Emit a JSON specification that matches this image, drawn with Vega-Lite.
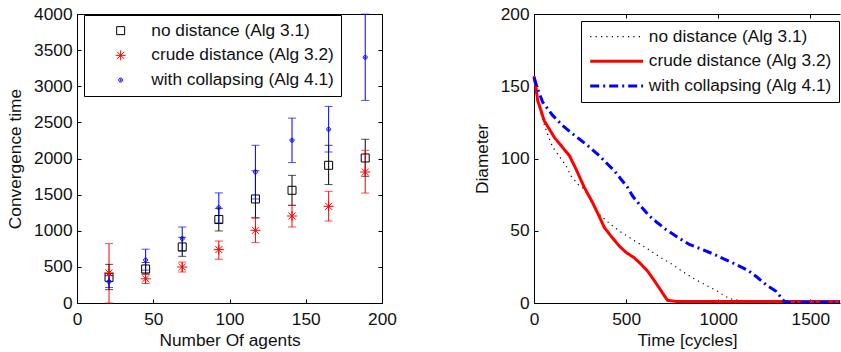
{
  "$schema": "https://vega.github.io/schema/vega-lite/v6.json",
  "background": "white",
  "padding": {"left": 6, "top": 5, "right": 0, "bottom": 0},
  "config": {
    "font": "Liberation Sans",
    "view": {"stroke": null},
    "axis": {
      "labelFontSize": 17.3, "titleFontSize": 17.3, "titleFontWeight": "normal",
      "labelColor": "#111", "titleColor": "#111", "domainColor": "black", "tickColor": "black",
      "tickSize": -4, "grid": false, "labelFlush": false, "labelOverlap": false,
      "domainWidth": 1, "tickWidth": 1, "format": "d"
    },
    "legend": {"labelFontSize": 17.3, "labelColor": "#111", "labelLimit": 400}
  },
  "spacing": 152,
  "bounds": "flush",
  "resolve": {
    "scale": {"color": "independent", "shape": "independent", "strokeDash": "independent", "strokeWidth": "independent"},
    "legend": {"color": "independent", "shape": "independent", "strokeDash": "independent", "strokeWidth": "independent"}
  },
  "hconcat": [
    {
      "width": 305, "height": 289,
      "data": {"values": [
        {"n": 21, "series": "no distance (Alg 3.1)", "mean": 355, "lo": 185, "hi": 535},
        {"n": 45, "series": "no distance (Alg 3.1)", "mean": 471, "lo": 400, "hi": 560},
        {"n": 69, "series": "no distance (Alg 3.1)", "mean": 776, "lo": 646, "hi": 910},
        {"n": 93, "series": "no distance (Alg 3.1)", "mean": 1155, "lo": 997, "hi": 1310},
        {"n": 117, "series": "no distance (Alg 3.1)", "mean": 1440, "lo": 1180, "hi": 1830},
        {"n": 141, "series": "no distance (Alg 3.1)", "mean": 1560, "lo": 1352, "hi": 1767},
        {"n": 165, "series": "no distance (Alg 3.1)", "mean": 1906, "lo": 1639, "hi": 2183},
        {"n": 189, "series": "no distance (Alg 3.1)", "mean": 2007, "lo": 1754, "hi": 2266},
        {"n": 21, "series": "crude distance (Alg 3.2)", "mean": 415, "lo": 0, "hi": 822},
        {"n": 45, "series": "crude distance (Alg 3.2)", "mean": 335, "lo": 270, "hi": 400},
        {"n": 69, "series": "crude distance (Alg 3.2)", "mean": 498, "lo": 429, "hi": 567},
        {"n": 93, "series": "crude distance (Alg 3.2)", "mean": 739, "lo": 605, "hi": 858},
        {"n": 117, "series": "crude distance (Alg 3.2)", "mean": 1006, "lo": 836, "hi": 1176},
        {"n": 141, "series": "crude distance (Alg 3.2)", "mean": 1204, "lo": 1052, "hi": 1352},
        {"n": 165, "series": "crude distance (Alg 3.2)", "mean": 1338, "lo": 1135, "hi": 1546},
        {"n": 189, "series": "crude distance (Alg 3.2)", "mean": 1813, "lo": 1522, "hi": 2113},
        {"n": 21, "series": "with collapsing (Alg 4.1)", "mean": 295, "lo": 215, "hi": 380},
        {"n": 45, "series": "with collapsing (Alg 4.1)", "mean": 595, "lo": 455, "hi": 745},
        {"n": 69, "series": "with collapsing (Alg 4.1)", "mean": 891, "lo": 720, "hi": 1052},
        {"n": 93, "series": "with collapsing (Alg 4.1)", "mean": 1320, "lo": 1109, "hi": 1524},
        {"n": 117, "series": "with collapsing (Alg 4.1)", "mean": 1813, "lo": 1440, "hi": 2183},
        {"n": 141, "series": "with collapsing (Alg 4.1)", "mean": 2252, "lo": 1943, "hi": 2559},
        {"n": 165, "series": "with collapsing (Alg 4.1)", "mean": 2404, "lo": 2090, "hi": 2721},
        {"n": 189, "series": "with collapsing (Alg 4.1)", "mean": 3400, "lo": 2804, "hi": 3998}
      ]},
      "layer": [
        {
          "mark": {"type": "rule", "strokeWidth": 1},
          "encoding": {
            "x": {"field": "n", "type": "quantitative", "scale": {"domain": [0, 200], "nice": false},
                  "axis": {"orient": "bottom", "values": [0, 50, 100, 150, 200], "title": "Number Of agents", "labelPadding": 11, "titlePadding": 4}},
            "y": {"field": "lo", "type": "quantitative", "scale": {"domain": [0, 4000], "nice": false},
                  "axis": {"orient": "left", "values": [0, 500, 1000, 1500, 2000, 2500, 3000, 3500, 4000], "title": "Convergence time", "labelPadding": 9, "titlePadding": 9}},
            "y2": {"field": "hi"},
            "color": {"field": "series", "type": "nominal",
                      "scale": {"domain": ["no distance (Alg 3.1)", "crude distance (Alg 3.2)", "with collapsing (Alg 4.1)"], "range": ["#000000", "#ff0000", "#0000ff"]},
                      "legend": null}
          }
        },
        {
          "mark": {"type": "tick", "orient": "horizontal", "size": 8, "thickness": 1},
          "encoding": {
            "x": {"field": "n", "type": "quantitative", "axis": null},
            "y": {"field": "lo", "type": "quantitative", "axis": null},
            "color": {"field": "series", "type": "nominal", "legend": null}
          }
        },
        {
          "mark": {"type": "tick", "orient": "horizontal", "size": 8, "thickness": 1},
          "encoding": {
            "x": {"field": "n", "type": "quantitative", "axis": null},
            "y": {"field": "hi", "type": "quantitative", "axis": null},
            "color": {"field": "series", "type": "nominal", "legend": null}
          }
        },
        {
          "mark": {"type": "point", "filled": false, "opacity": 1, "strokeWidth": 1, "size": 100},
          "encoding": {
            "x": {"field": "n", "type": "quantitative",
                  "axis": {"orient": "top", "values": [0, 50, 100, 150, 200], "labels": false, "title": null}},
            "y": {"field": "mean", "type": "quantitative",
                  "axis": {"orient": "right", "values": [0, 500, 1000, 1500, 2000, 2500, 3000, 3500, 4000], "labels": false, "title": null}},
            "color": {"field": "series", "type": "nominal",
                      "legend": {"title": null, "orient": "none", "legendX": 7, "legendY": 1, "strokeColor": "black", "fillColor": "white",
                                 "padding": 7, "rowPadding": 6.7, "symbolOffset": 21, "labelOffset": 22, "symbolStrokeWidth": 1, "symbolSize": 100}},
            "shape": {"field": "series", "type": "nominal",
                      "scale": {"domain": ["no distance (Alg 3.1)", "crude distance (Alg 3.2)", "with collapsing (Alg 4.1)"],
                                "range": ["M-0.8,-0.8L0.8,-0.8L0.8,0.8L-0.8,0.8Z", "M-1,0L1,0M0,-1L0,1M-0.7,-0.7L0.7,0.7M-0.7,0.7L0.7,-0.7", "M-0.4,0A0.4,0.4 0 1,0 0.4,0A0.4,0.4 0 1,0 -0.4,0ZM-0.15,0A0.15,0.15 0 1,0 0.15,0A0.15,0.15 0 1,0 -0.15,0Z"]},
                      "legend": {"title": null, "orient": "none", "legendX": 7, "legendY": 1, "strokeColor": "black", "fillColor": "white",
                                 "padding": 7, "rowPadding": 6.7, "symbolOffset": 21, "labelOffset": 22, "symbolStrokeWidth": 1, "symbolSize": 100}}
          }
        }
      ],
      "resolve": {"axis": {"x": "independent", "y": "independent"}, "legend": {"color": "independent", "shape": "independent"}}
    },
    {
      "width": 306, "height": 289,
      "data": {"values": [
        {"s": "no distance (Alg 3.1)", "t": 0, "d": 157},
        {"s": "no distance (Alg 3.1)", "t": 15, "d": 143},
        {"s": "no distance (Alg 3.1)", "t": 40, "d": 130},
        {"s": "no distance (Alg 3.1)", "t": 70, "d": 118},
        {"s": "no distance (Alg 3.1)", "t": 101, "d": 108},
        {"s": "no distance (Alg 3.1)", "t": 140, "d": 101},
        {"s": "no distance (Alg 3.1)", "t": 174, "d": 95},
        {"s": "no distance (Alg 3.1)", "t": 200, "d": 88},
        {"s": "no distance (Alg 3.1)", "t": 240, "d": 82},
        {"s": "no distance (Alg 3.1)", "t": 273, "d": 78.8},
        {"s": "no distance (Alg 3.1)", "t": 320, "d": 68},
        {"s": "no distance (Alg 3.1)", "t": 354, "d": 61.4},
        {"s": "no distance (Alg 3.1)", "t": 410, "d": 55},
        {"s": "no distance (Alg 3.1)", "t": 463, "d": 49.8},
        {"s": "no distance (Alg 3.1)", "t": 540, "d": 43.5},
        {"s": "no distance (Alg 3.1)", "t": 608, "d": 38.2},
        {"s": "no distance (Alg 3.1)", "t": 680, "d": 32},
        {"s": "no distance (Alg 3.1)", "t": 752, "d": 26.6},
        {"s": "no distance (Alg 3.1)", "t": 810, "d": 21.5},
        {"s": "no distance (Alg 3.1)", "t": 861, "d": 17.4},
        {"s": "no distance (Alg 3.1)", "t": 930, "d": 12.5},
        {"s": "no distance (Alg 3.1)", "t": 997, "d": 8.1},
        {"s": "no distance (Alg 3.1)", "t": 1040, "d": 4.5},
        {"s": "no distance (Alg 3.1)", "t": 1069, "d": 2.8},
        {"s": "no distance (Alg 3.1)", "t": 1114, "d": 1.8},
        {"s": "no distance (Alg 3.1)", "t": 1200, "d": 1.5},
        {"s": "no distance (Alg 3.1)", "t": 1661, "d": 1.5},
        {"s": "crude distance (Alg 3.2)", "t": 0, "d": 157},
        {"s": "crude distance (Alg 3.2)", "t": 10, "d": 150},
        {"s": "crude distance (Alg 3.2)", "t": 20, "d": 140},
        {"s": "crude distance (Alg 3.2)", "t": 29, "d": 136.7},
        {"s": "crude distance (Alg 3.2)", "t": 56, "d": 126},
        {"s": "crude distance (Alg 3.2)", "t": 80, "d": 121},
        {"s": "crude distance (Alg 3.2)", "t": 110, "d": 114.7},
        {"s": "crude distance (Alg 3.2)", "t": 150, "d": 108.5},
        {"s": "crude distance (Alg 3.2)", "t": 192, "d": 102},
        {"s": "crude distance (Alg 3.2)", "t": 228, "d": 92.7},
        {"s": "crude distance (Alg 3.2)", "t": 273, "d": 80},
        {"s": "crude distance (Alg 3.2)", "t": 318, "d": 69.5},
        {"s": "crude distance (Alg 3.2)", "t": 350, "d": 61},
        {"s": "crude distance (Alg 3.2)", "t": 382, "d": 52.2},
        {"s": "crude distance (Alg 3.2)", "t": 420, "d": 46},
        {"s": "crude distance (Alg 3.2)", "t": 463, "d": 39.4},
        {"s": "crude distance (Alg 3.2)", "t": 500, "d": 35},
        {"s": "crude distance (Alg 3.2)", "t": 544, "d": 31.3},
        {"s": "crude distance (Alg 3.2)", "t": 580, "d": 27},
        {"s": "crude distance (Alg 3.2)", "t": 617, "d": 22},
        {"s": "crude distance (Alg 3.2)", "t": 650, "d": 16},
        {"s": "crude distance (Alg 3.2)", "t": 680, "d": 10.4},
        {"s": "crude distance (Alg 3.2)", "t": 705, "d": 5.5},
        {"s": "crude distance (Alg 3.2)", "t": 725, "d": 1.8},
        {"s": "crude distance (Alg 3.2)", "t": 771, "d": 1.1},
        {"s": "crude distance (Alg 3.2)", "t": 1661, "d": 1.1},
        {"s": "with collapsing (Alg 4.1)", "t": 0, "d": 156},
        {"s": "with collapsing (Alg 4.1)", "t": 20, "d": 148},
        {"s": "with collapsing (Alg 4.1)", "t": 47, "d": 139},
        {"s": "with collapsing (Alg 4.1)", "t": 100, "d": 130},
        {"s": "with collapsing (Alg 4.1)", "t": 155, "d": 122.8},
        {"s": "with collapsing (Alg 4.1)", "t": 200, "d": 118},
        {"s": "with collapsing (Alg 4.1)", "t": 246, "d": 113.5},
        {"s": "with collapsing (Alg 4.1)", "t": 300, "d": 108},
        {"s": "with collapsing (Alg 4.1)", "t": 354, "d": 102},
        {"s": "with collapsing (Alg 4.1)", "t": 400, "d": 96},
        {"s": "with collapsing (Alg 4.1)", "t": 436, "d": 91.5},
        {"s": "with collapsing (Alg 4.1)", "t": 470, "d": 86},
        {"s": "with collapsing (Alg 4.1)", "t": 508, "d": 80},
        {"s": "with collapsing (Alg 4.1)", "t": 535, "d": 74},
        {"s": "with collapsing (Alg 4.1)", "t": 580, "d": 67},
        {"s": "with collapsing (Alg 4.1)", "t": 626, "d": 60.2},
        {"s": "with collapsing (Alg 4.1)", "t": 670, "d": 55.5},
        {"s": "with collapsing (Alg 4.1)", "t": 716, "d": 50.9},
        {"s": "with collapsing (Alg 4.1)", "t": 780, "d": 45.5},
        {"s": "with collapsing (Alg 4.1)", "t": 843, "d": 40.5},
        {"s": "with collapsing (Alg 4.1)", "t": 915, "d": 37},
        {"s": "with collapsing (Alg 4.1)", "t": 979, "d": 33.6},
        {"s": "with collapsing (Alg 4.1)", "t": 1030, "d": 30.5},
        {"s": "with collapsing (Alg 4.1)", "t": 1087, "d": 27.3},
        {"s": "with collapsing (Alg 4.1)", "t": 1160, "d": 22.7},
        {"s": "with collapsing (Alg 4.1)", "t": 1210, "d": 18},
        {"s": "with collapsing (Alg 4.1)", "t": 1259, "d": 12.7},
        {"s": "with collapsing (Alg 4.1)", "t": 1314, "d": 8.1},
        {"s": "with collapsing (Alg 4.1)", "t": 1340, "d": 4},
        {"s": "with collapsing (Alg 4.1)", "t": 1359, "d": 1.1},
        {"s": "with collapsing (Alg 4.1)", "t": 1380, "d": 0.5},
        {"s": "with collapsing (Alg 4.1)", "t": 1661, "d": 0.5}
      ]},
      "layer": [
        {
          "mark": {"type": "line", "clip": false},
          "encoding": {
            "x": {"field": "t", "type": "quantitative", "scale": {"domain": [0, 1661], "nice": false},
                  "axis": {"orient": "bottom", "values": [0, 500, 1000, 1500], "title": "Time [cycles]", "labelPadding": 11, "titlePadding": 4}},
            "y": {"field": "d", "type": "quantitative", "scale": {"domain": [0, 200], "nice": false},
                  "axis": {"orient": "left", "values": [0, 50, 100, 150, 200], "title": "Diameter", "labelPadding": 9, "titlePadding": 9}},
            "color": {"field": "s", "type": "nominal",
                      "scale": {"domain": ["no distance (Alg 3.1)", "crude distance (Alg 3.2)", "with collapsing (Alg 4.1)"], "range": ["#000000", "#ff0000", "#0000ff"]},
                      "legend": {"title": null, "orient": "none", "legendX": 47, "legendY": 7, "strokeColor": "black", "fillColor": "white",
                                 "padding": 7, "rowPadding": 6.7, "symbolType": "M-5,0L5,0", "symbolSize": 112, "symbolOffset": 20, "labelOffset": 23.5}},
            "strokeDash": {"field": "s", "type": "nominal",
                           "scale": {"domain": ["no distance (Alg 3.1)", "crude distance (Alg 3.2)", "with collapsing (Alg 4.1)"], "range": [[1.2, 4.2], [1, 0], [9, 4, 2, 4]]},
                           "legend": {"title": null, "orient": "none", "legendX": 47, "legendY": 7, "strokeColor": "black", "fillColor": "white",
                                 "padding": 7, "rowPadding": 6.7, "symbolType": "M-5,0L5,0", "symbolSize": 112, "symbolOffset": 20, "labelOffset": 23.5}},
            "strokeWidth": {"field": "s", "type": "nominal",
                            "scale": {"type": "ordinal", "domain": ["no distance (Alg 3.1)", "crude distance (Alg 3.2)", "with collapsing (Alg 4.1)"], "range": [1.2, 3, 3]},
                            "legend": {"title": null, "orient": "none", "legendX": 47, "legendY": 7, "strokeColor": "black", "fillColor": "white",
                                 "padding": 7, "rowPadding": 6.7, "symbolType": "M-5,0L5,0", "symbolSize": 112, "symbolOffset": 20, "labelOffset": 23.5}},
            "order": {"field": "t", "type": "quantitative"}
          }
        },
        {
          "mark": {"type": "point", "opacity": 0},
          "encoding": {
            "x": {"field": "t", "type": "quantitative",
                  "axis": {"orient": "top", "values": [0, 500, 1000, 1500], "labels": false, "title": null}},
            "y": {"field": "d", "type": "quantitative", "axis": null}
          }
        }
      ],
      "resolve": {"axis": {"x": "independent", "y": "independent"}}
    }
  ]
}
